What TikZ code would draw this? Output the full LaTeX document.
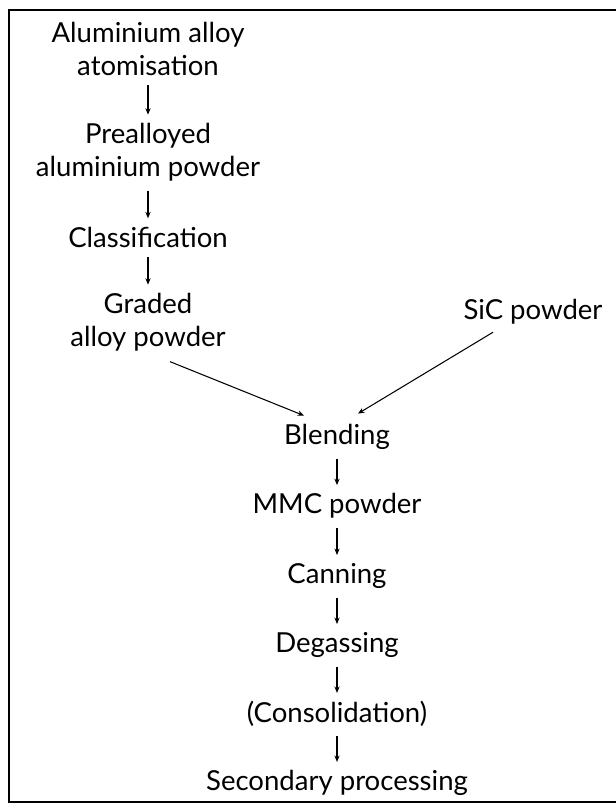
\documentclass[tikz,border=0pt]{standalone}
\usepackage{fontspec}
\setmainfont{Lato}
\usepackage{tikz}
\usetikzlibrary{arrows.meta, positioning}

\begin{document}
\begin{tikzpicture}[
  x=0.03cm, y=-0.03cm,
  stage/.style={align=center, font=\fontsize{23.5}{28}\selectfont, inner sep=3pt},
  arrow/.style={-{Stealth[length=5.5pt, width=4.5pt]}, line width=0.9pt},
  down/.style={arrow, shorten <=5pt, shorten >=4pt},
  frame/.style={line width=2pt}
]
\useasboundingbox (0,0) rectangle (616,810);
\draw[frame] (616,10) -- (9,10) -- (9,802) -- (616,802);

% left branch
\node[stage] (atom) at (148,49) {Aluminium alloy\\atomisation};
\node[stage] (pre) at (148,152) {Prealloyed\\aluminium powder};
\node[stage] (clas) at (148,237) {Classification};
\node[stage] (grad) at (148,322) {Graded\\alloy powder};
% right branch
\node[stage] (sic) at (533,312) {SiC powder};
% main line
\node[stage] (blend) at (337,437) {Blending};
\node[stage] (mmc) at (337,506) {MMC powder};
\node[stage] (can) at (337,576) {Canning};
\node[stage] (degas) at (337,645) {Degassing};
\node[stage] (cons) at (337,714) {(Consolidation)};
\node[stage] (sec) at (337,783) {Secondary processing};

\draw[down] (atom) -- (pre);
\draw[down] (pre) -- (clas);
\draw[down] (clas) -- (grad);
\draw[arrow] ([shift={(22,7)}]grad.south) -- ([shift={(-33,-5)}]blend.north);
\draw[arrow] ([shift={(-40,4)}]sic.south) -- ([shift={(21,-7)}]blend.north);
\draw[down] (blend) -- (mmc);
\draw[down] (mmc) -- (can);
\draw[down] (can) -- (degas);
\draw[down] (degas) -- (cons);
\draw[down] (cons) -- (sec);
\end{tikzpicture}
\end{document}
